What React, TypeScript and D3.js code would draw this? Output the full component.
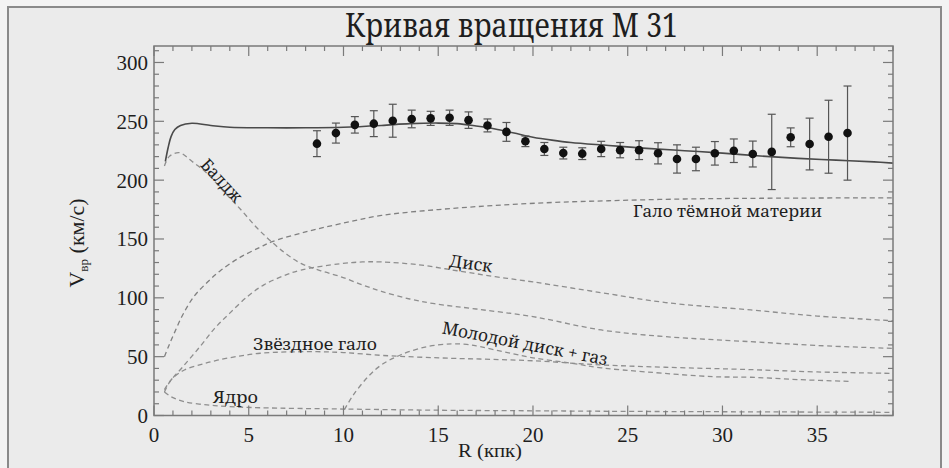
import React from 'react';
import * as d3 from 'd3';

// ---- Data ----
const obsR = [8.6, 9.6, 10.6, 11.6, 12.6, 13.6, 14.6, 15.6, 16.6, 17.6, 18.6, 19.6, 20.6, 21.6, 22.6, 23.6, 24.6, 25.6, 26.6, 27.6, 28.6, 29.6, 30.6, 31.6, 32.6, 33.6, 34.6, 35.6, 36.6];
const obsV = [231, 240, 247, 248, 250.5, 252, 252.5, 253, 251, 246.5, 241, 233, 226.5, 223, 222.5, 226.5, 225.5, 225.5, 222.8, 218, 218, 222.8, 225, 222.2, 224, 236.4, 230.7, 236.9, 240];
const obsErr = [11, 8.5, 7, 11, 14, 7.5, 6, 6.5, 7, 5.5, 8, 4.5, 5.5, 5, 5, 6.5, 6.5, 8, 9, 12, 10, 10, 10, 11, 32, 8, 22, 31, 40];

const totalR = [0.6, 0.75, 0.9, 1.1, 1.4, 2.0, 3.0, 4.0, 6.0, 8.0, 10.0, 12.0, 13.5, 15.0, 16.0, 17.0, 18.0, 19.0, 20.0, 21.0, 22.0, 24.0, 26.0, 28.0, 30.0, 32.0, 34.0, 36.0, 38.0, 39.0];
const totalV = [216, 228, 237, 243, 246.5, 248.3, 246.5, 245, 244.5, 244.5, 245, 246.5, 248, 248.5, 248, 246, 243.5, 240, 236.5, 234, 232, 229.5, 227, 225, 223, 220.5, 218.5, 217, 215.5, 214.5];

const haloR = [0.55, 0.8, 1.07, 1.5, 2.1, 2.8, 3.5, 4.5, 5.6, 6.2, 8, 9.85, 12, 15, 18, 21, 24, 28, 32, 39];
const haloV = [50, 60, 70, 85, 101, 113, 123, 134, 143, 147.5, 156, 163, 170, 175, 178.5, 181, 182.5, 184, 184.6, 185];

const bulgeR = [0.55, 0.8, 1.33, 2, 2.8, 3.7, 4.6, 5.4, 6.2, 7, 7.75, 8.8, 9.85, 11, 12, 13.5, 14.8, 17, 20, 23.6, 27, 31.5, 35, 39];
const bulgeV = [212, 220, 223.4, 216, 205.8, 190, 174.6, 160, 147.7, 137, 129.3, 123, 118, 111, 105.5, 99, 95, 90.5, 84, 72.7, 67, 62.7, 59.5, 57];

const diskR = [0.55, 0.85, 1.5, 2.4, 3.2, 4.0, 5.0, 5.8, 6.8, 7.75, 9.85, 11, 12, 14, 16, 18, 20, 23.6, 27, 31.5, 35, 39];
const diskV = [20, 29, 41, 58, 74, 87, 102, 111, 118.5, 123.6, 129, 130.5, 130.5, 128, 123, 118, 113.5, 104.4, 96, 89.7, 84.5, 80.5];

const stellarR = [0.55, 1.0, 1.6, 2.5, 3.35, 4.5, 5.6, 7, 8.6, 10, 12.1, 15.7, 17.2, 20, 23.6, 27, 31.5, 35, 39];
const stellarV = [22, 32, 38.7, 43.5, 47, 50.5, 52.9, 54, 54.2, 53.5, 51, 48.6, 48, 46.5, 43, 41, 39, 37, 35.8];

const youngR = [10.05, 10.5, 11.3, 12, 13, 14.4, 15.7, 16.5, 17.2, 18.5, 20, 22, 23.6, 26, 29.5, 31.5, 34, 36.7];
const youngV = [5, 17, 33, 43, 51.4, 58.5, 60.8, 60.5, 58.5, 54, 49, 44.5, 40.5, 37, 33, 32.5, 30.5, 29];

const nucleusR = [0.55, 0.9, 1.6, 2.8, 4, 5.6, 10, 15, 20, 25, 30, 39];
const nucleusV = [20, 16, 11.7, 9, 7.5, 6.6, 5.5, 4.5, 4, 3.5, 3.2, 2.7];

const xTicks = [0, 5, 10, 15, 20, 25, 30, 35];
const yTicks = [0, 50, 100, 150, 200, 250, 300];

const title = 'Кривая вращения М 31';
const xLabel = 'R (кпк)';

// ---- Layout ----
const W = 949;
const H = 468;
const left = 154;
const right = 893;
const top = 46;
const bottom = 415.5;

const FONT = 'Liberation Serif, Noto Serif, DejaVu Serif, serif';
const CYR = 'Noto Serif, DejaVu Serif, serif';

type LabelProps = {
  x: number;
  y: number;
  rot?: number;
  len?: number;
  size: number;
  family?: string;
  anchor?: string;
  central?: boolean;
  children: React.ReactNode;
};

function Label({ x, y, rot = 0, len, size, family = CYR, anchor = 'middle', central = false, children }: LabelProps) {
  return (
    <text
      transform={`translate(${x},${y}) rotate(${rot})`}
      textAnchor={anchor}
      fontFamily={family}
      fontSize={size}
      fill="#1e1e1e"
      dominantBaseline={central ? 'central' : undefined}
      textLength={len}
      lengthAdjust={len ? 'spacingAndGlyphs' : undefined}
    >
      {children}
    </text>
  );
}

export default function App() {
  const x = d3.scaleLinear().domain([0, 39]).range([left, right]);
  const y = d3.scaleLinear().domain([0, 314]).range([bottom, top]);

  const line = d3
    .line<[number, number]>()
    .x((d) => x(d[0]))
    .y((d) => y(d[1]))
    .curve(d3.curveCatmullRom.alpha(0.5));

  const zip = (a: number[], b: number[]) => a.map((v, i) => [v, b[i]] as [number, number]);

  const dashed = [
    { R: haloR, V: haloV, c: '#808080' },
    { R: bulgeR, V: bulgeV, c: '#8e8e8e' },
    { R: diskR, V: diskV, c: '#8e8e8e' },
    { R: stellarR, V: stellarV, c: '#8e8e8e' },
    { R: youngR, V: youngV, c: '#8e8e8e' },
    { R: nucleusR, V: nucleusV, c: '#8e8e8e' },
  ];

  const xMinor = d3.range(0, 40, 1);
  const yMinor = d3.range(0, 315, 10);

  const axisColor = '#7a7a7a';

  return (
    <svg
      width={W}
      height={H}
      style={{ position: 'absolute', left: 0, top: 0, display: 'block' }}
      xmlns="http://www.w3.org/2000/svg"
    >
      <rect x={0} y={0} width={W} height={H} fill="#f3f3f3" />
      <rect x={8} y={7} width={933} height={470} fill="#ebebeb" stroke="#8a8a8a" strokeWidth={2} />

      {/* title */}
      <Label x={511.5} y={37} size={33} len={333}>
        {title}
      </Label>

      {/* curves */}
      <g fill="none">
        {dashed.map((c, i) => (
          <path
            key={i}
            d={line(zip(c.R, c.V)) || ''}
            stroke={c.c}
            strokeWidth={1.3}
            strokeDasharray="5,3.5"
          />
        ))}
        <path d={line(zip(totalR, totalV)) || ''} stroke="#4a4a4a" strokeWidth={1.6} />
      </g>

      {/* observations */}
      <g>
        {obsR.map((r, i) => {
          const cx = x(r);
          const y1 = y(obsV[i] + obsErr[i]);
          const y2 = y(obsV[i] - obsErr[i]);
          return (
            <g key={i}>
              <line x1={cx} x2={cx} y1={y1} y2={y2} stroke="#555" strokeWidth={1.2} />
              <line x1={cx - 4} x2={cx + 4} y1={y1} y2={y1} stroke="#555" strokeWidth={1.2} />
              <line x1={cx - 4} x2={cx + 4} y1={y2} y2={y2} stroke="#555" strokeWidth={1.2} />
              <circle cx={cx} cy={y(obsV[i])} r={4.3} fill="#111" />
            </g>
          );
        })}
      </g>

      {/* frame */}
      <rect x={left} y={top} width={right - left} height={bottom - top} fill="none" stroke={axisColor} strokeWidth={1.5} />

      {/* ticks */}
      <g stroke={axisColor} strokeWidth={1.2}>
        {xMinor.map((t) => {
          const major = t % 5 === 0;
          const len = major ? 10 : 5;
          return (
            <g key={'x' + t}>
              <line x1={x(t)} x2={x(t)} y1={bottom} y2={bottom - len} />
              <line x1={x(t)} x2={x(t)} y1={top} y2={top + len} />
            </g>
          );
        })}
        {yMinor.map((t) => {
          const major = t % 50 === 0;
          const len = major ? 10 : 5;
          return (
            <g key={'y' + t}>
              <line x1={left} x2={left + len} y1={y(t)} y2={y(t)} />
              <line x1={right} x2={right - len} y1={y(t)} y2={y(t)} />
            </g>
          );
        })}
      </g>

      {/* tick labels */}
      <g fontFamily={FONT} fontSize={21} fill="#1e1e1e">
        {xTicks.map((t) => (
          <text key={'xl' + t} x={x(t)} y={442} textAnchor="middle">
            {t}
          </text>
        ))}
        {yTicks.map((t) => (
          <text key={'yl' + t} x={148} y={y(t) + 7.5} textAnchor="end">
            {t}
          </text>
        ))}
      </g>

      {/* axis titles */}
      <Label x={490} y={457} size={19} family={FONT} len={64}>
        {xLabel}
      </Label>
      <text
        transform="translate(84,243) rotate(-90)"
        textAnchor="middle"
        fontFamily={FONT}
        fontSize={20}
        fill="#1e1e1e"
        textLength={89}
        lengthAdjust="spacingAndGlyphs"
      >
        V<tspan fontSize={12} dy={4}>вр</tspan>
        <tspan dy={-4}> (км/с)</tspan>
      </text>

      {/* curve labels */}
      <Label x={222} y={180} rot={47} size={17} len={52} central>
        Балдж
      </Label>
      <Label x={727.5} y={217} size={17} len={189}>
        Гало тёмной материи
      </Label>
      <Label x={471} y={263} rot={8} size={17} len={43} central>
        Диск
      </Label>
      <Label x={315} y={350} size={17} len={124}>
        Звёздное гало
      </Label>
      <Label x={235.5} y={403} size={17} len={45}>
        Ядро
      </Label>
      <Label x={525} y={343} rot={11} size={17} len={168} central>
        Молодой диск + газ
      </Label>
    </svg>
  );
}
